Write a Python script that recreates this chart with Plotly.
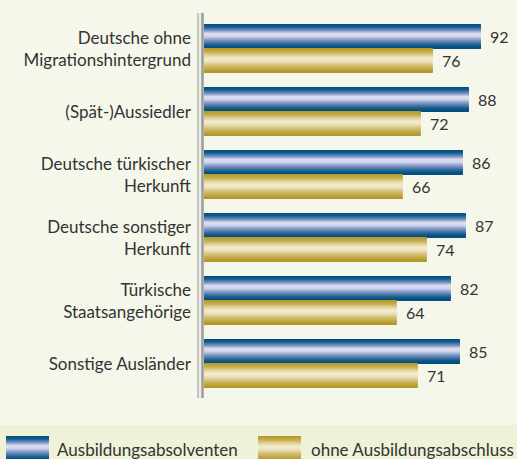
import plotly.graph_objects as go

categories = [
    "Deutsche ohne<br>Migrationshintergrund",
    "(Spät-)Aussiedler",
    "Deutsche türkischer<br>Herkunft",
    "Deutsche sonstiger<br>Herkunft",
    "Türkische<br>Staatsangehörige",
    "Sonstige Ausländer",
]
absolventen = [92, 88, 86, 87, 82, 85]
ohne_abschluss = [76, 72, 66, 74, 64, 71]
series_names = ["Ausbildungsabsolventen", "ohne Ausbildungsabschluss"]

# ---- layout geometry (pixels) ----
W, H = 517, 459
L, R, T, B = 204, 0, 13, 61
PW, PH = W - L - R, H - T - B
ypos = list(range(len(categories)))
BAR_H = 0.381  # half of the group, in category units

BG = "#f5f7ea"
BAND = "#edf2d8"
TXT = "#333333"
FONT = "Lato"

blue_stops = [(0.0, (0, 78, 126)), (0.12, (20, 92, 140)), (0.27, (120, 148, 196)),
              (0.40, (222, 222, 242)), (0.52, (206, 210, 236)), (0.70, (110, 140, 188)),
              (0.88, (20, 92, 140)), (1.0, (0, 78, 126))]
gold_stops = [(0.0, (180, 152, 38)), (0.15, (196, 172, 72)), (0.32, (228, 214, 160)),
              (0.45, (244, 236, 212)), (0.58, (234, 222, 180)), (0.78, (204, 182, 96)),
              (1.0, (178, 150, 34))]


def grad(stops, t):
    for (p0, c0), (p1, c1) in zip(stops, stops[1:]):
        if p0 <= t <= p1:
            f = (t - p0) / (p1 - p0) if p1 > p0 else 0
            c = [round(a + (b - a) * f) for a, b in zip(c0, c1)]
            return "rgb(%d,%d,%d)" % tuple(c)
    return "rgb(%d,%d,%d)" % stops[-1][1]


N = 24
fig = go.Figure()
for values, stops, start in [(absolventen, blue_stops, -BAR_H), (ohne_abschluss, gold_stops, 0.0)]:
    w = BAR_H / N
    for k in range(N):
        t = (k + 0.5) / N
        fig.add_trace(go.Bar(
            x=values, y=ypos, orientation="h",
            offset=start + k * w, width=w * 1.3 if k < N - 1 else w,
            marker=dict(color=grad(stops, t), line=dict(width=0)),
            showlegend=False, hoverinfo="skip",
        ))

annotations = []
for values, off in [(absolventen, -BAR_H / 2), (ohne_abschluss, BAR_H / 2)]:
    for v, y in zip(values, ypos):
        annotations.append(dict(
            x=v, y=y + off, xref="x", yref="y", text=str(v), showarrow=False,
            xanchor="left", yanchor="middle", xshift=7,
            font=dict(family=FONT, size=16, color=TXT),
        ))


def px_x(px):
    return (px - L) / PW


def px_y(py):
    return (H - B - py) / PH


shapes = []
# legend band
shapes.append(dict(type="rect", xref="paper", yref="paper", x0=px_x(0), x1=px_x(W),
                   y0=px_y(H), y1=px_y(425), fillcolor=BAND, line=dict(width=0), layer="below"))
# axis line (3D look)
for x0, x1, col in [(197, 204, "#c4c4bc"), (199, 201, "#ececea"), (201.5, 203.5, "#9c9c98")]:
    shapes.append(dict(type="rect", xref="paper", yref="paper", x0=px_x(x0), x1=px_x(x1),
                       y0=px_y(398), y1=px_y(13), fillcolor=col, line=dict(width=0)))
# legend swatches
for sx, stops in [(6, blue_stops), (258, gold_stops)]:
    n = 24
    top, bot = 436, 460
    hh = (bot - top) / n
    for k in range(n):
        t = (k + 0.5) / n
        shapes.append(dict(type="rect", xref="paper", yref="paper",
                           x0=px_x(sx), x1=px_x(sx + 43),
                           y0=px_y(top + (k + 1) * hh + 0.4), y1=px_y(top + k * hh),
                           fillcolor=grad(stops, t), line=dict(width=0)))
for tx, name in [(55, series_names[0]), (309, series_names[1])]:
    annotations.append(dict(x=px_x(tx), y=px_y(449), xref="paper", yref="paper", text=name,
                            showarrow=False, xanchor="left", yanchor="middle",
                            font=dict(family=FONT, size=17, color=TXT)))

fig.update_layout(
    width=W, height=H, margin=dict(l=L, r=R, t=T, b=B),
    paper_bgcolor=BG, plot_bgcolor=BG,
    barmode="overlay", showlegend=False,
    xaxis=dict(range=[0, PW / 3.01], visible=False, fixedrange=True),
    yaxis=dict(range=[5.54, -0.571], tickvals=ypos, ticktext=categories, ticks="",
               showgrid=False, zeroline=False, showline=False, ticklabelstandoff=12,
               tickfont=dict(family=FONT, size=17, color=TXT), fixedrange=True),
    shapes=shapes, annotations=annotations,
    font=dict(family=FONT, color=TXT),
)
fig.write_html("out.html", config={"displayModeBar": False})
